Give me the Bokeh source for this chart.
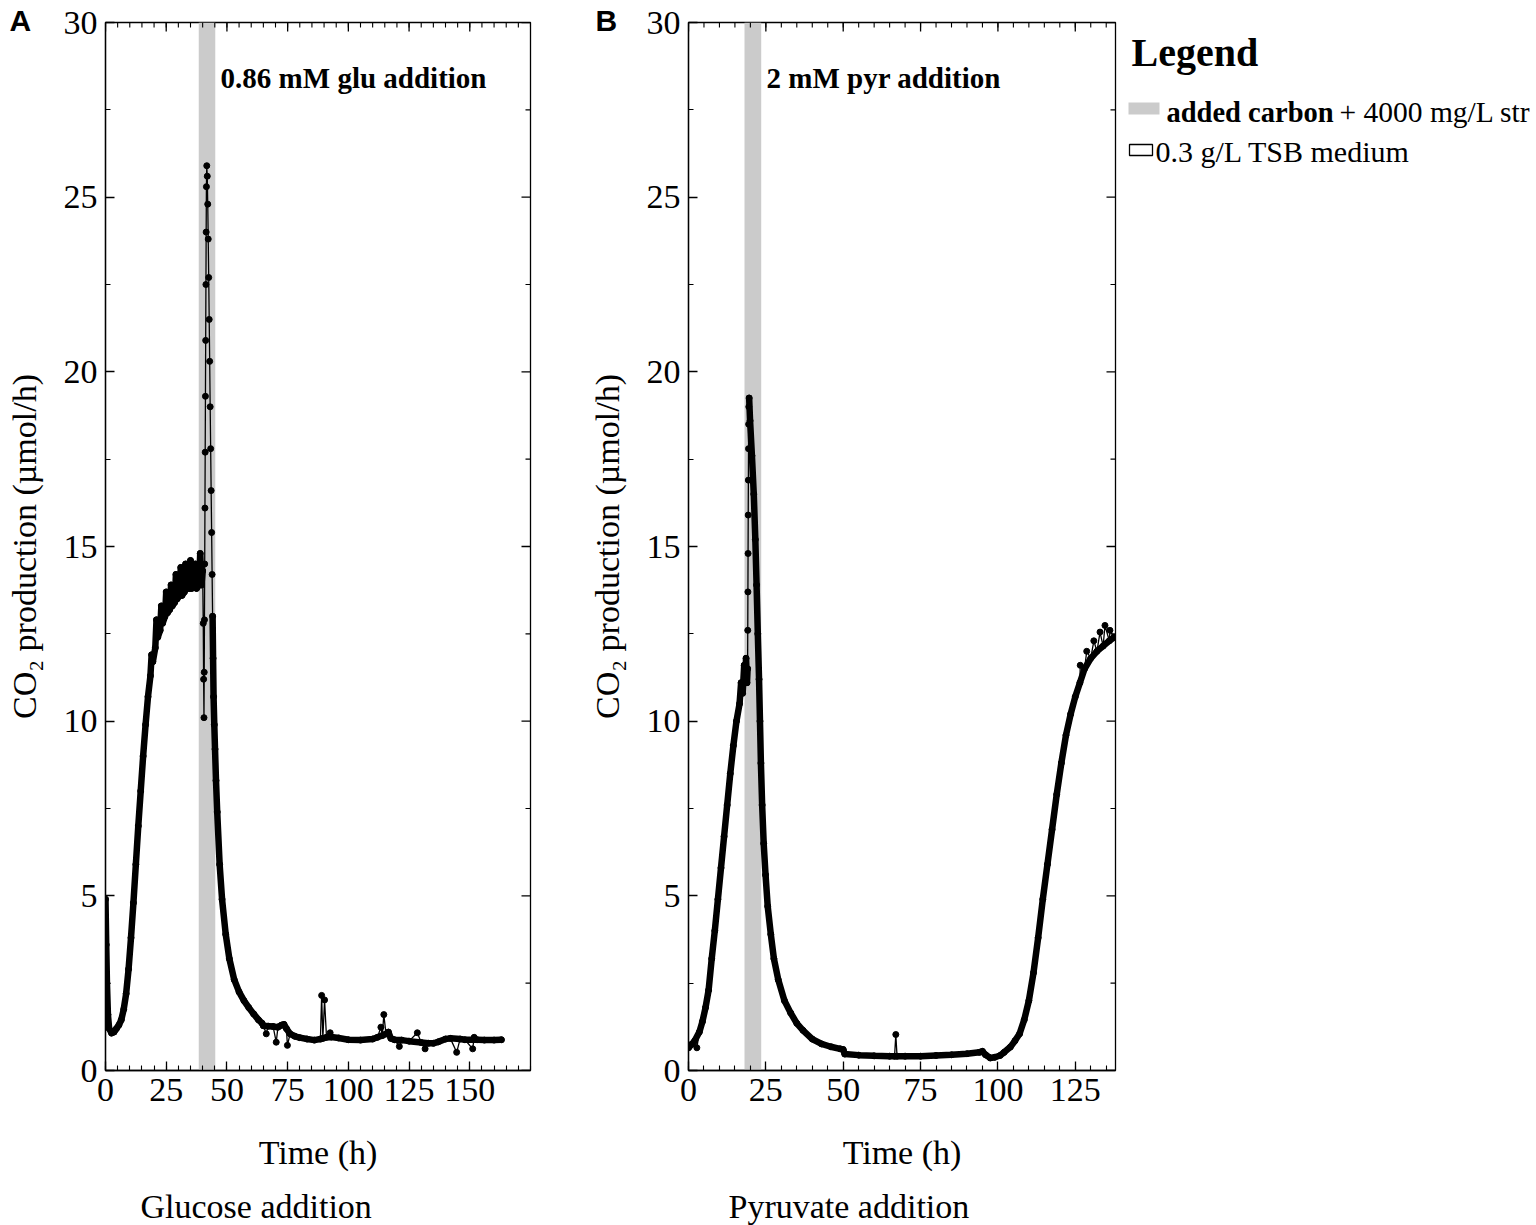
import numpy as np
import pandas as pd
from bokeh.plotting import figure
from bokeh.models import Range1d, FixedTicker, BoxAnnotation, Label, Title
from bokeh.layouts import row
from bokeh.embed import file_html
from bokeh.resources import INLINE
from bokeh.core.properties import value

SERIF = "Liberation Serif"

# ---------------- data: panel A (glucose) ----------------
glu_time = [
    0.0, 0.3, 0.6, 1.0, 1.5, 2.5, 3.5, 4.5, 5.5, 6.5,
    7.5, 8.5, 9.5, 10.5, 11.5, 12.5, 13.5, 14.5, 15.5, 16.5,
    17.5, 18.5, 19.0, 19.5, 20.5, 21.0, 21.5, 22.5, 23.0, 23.5,
    24.5, 25.0, 25.5, 26.5, 27.0, 27.5, 28.5, 29.0, 29.5, 30.5,
    31.0, 31.5, 32.5, 33.0, 33.5, 34.5, 35.0, 35.5, 36.5, 37.0,
    37.5, 38.5, 39.0, 39.5, 40.0,
    40.25, 40.4, 40.55, 40.65, 40.75, 40.85, 40.95, 41.05, 41.15, 41.25,
    41.35, 41.45, 41.55, 41.7, 41.9, 42.1, 42.3, 42.5, 42.7, 42.9,
    43.1, 43.3, 43.5, 43.7, 43.9, 44.1, 44.3, 44.5, 44.8, 45.1,
    45.5, 46.0, 47.0, 48.0, 49.5, 51.0, 53.0, 55.0, 57.0, 59.0,
    61.0, 63.0, 64.5, 65.0, 67.0, 69.0, 71.0, 72.5, 73.5, 74.5,
    76.0, 78.0, 80.0, 83.0, 86.0, 88.5, 89.5, 91.0, 93.0, 96.0,
    100.0, 105.0, 110.0, 112.0, 114.0, 115.5, 116.5, 117.5, 119.0, 122.0,
    125.0, 130.0, 133.0, 135.0, 137.0, 140.0, 142.0, 146.0, 148.0, 153.0,
    156.0, 160.0, 163.0]
glu_co2 = [
    4.9, 3.6, 2.5, 1.6, 1.2, 1.07, 1.1, 1.2, 1.3, 1.45,
    1.75, 2.2, 2.9, 3.8, 4.8, 5.9, 7.0, 8.0, 9.0, 9.9,
    10.7, 11.3, 11.9, 11.7, 12.1, 12.9, 12.4, 12.6, 13.3, 12.8,
    13.0, 13.7, 13.1, 13.2, 13.9, 13.3, 13.4, 14.2, 13.5, 13.6,
    14.4, 13.6, 13.7, 14.5, 13.8, 13.8, 14.6, 13.8, 13.9, 14.5,
    13.8, 13.9, 14.8, 13.9, 14.3,
    12.8, 11.2, 10.1, 11.4, 12.9, 14.5, 16.1, 17.7, 19.3, 20.9,
    22.5, 24.0, 25.3, 25.9, 25.6, 24.8, 23.8, 22.7, 21.5, 20.3,
    19.0, 17.8, 16.6, 15.4, 14.2, 13.0, 11.8, 10.7, 9.9, 9.2,
    8.3, 7.4, 5.9, 4.9, 3.9, 3.2, 2.6, 2.25, 2.0, 1.8,
    1.62, 1.45, 1.35, 1.28, 1.27, 1.26, 1.24, 1.3, 1.32, 1.2,
    1.05, 0.98, 0.94, 0.9, 0.87, 0.9, 0.92, 0.95, 0.96, 0.93,
    0.88, 0.87, 0.9, 0.95, 1.0, 1.05, 1.1, 0.92, 0.88, 0.87,
    0.84, 0.8, 0.78, 0.78, 0.82, 0.9, 0.92, 0.9, 0.88, 0.88,
    0.87, 0.87, 0.88]
glu_spike_time = [66.2, 70.3, 74.9, 89.0, 90.2, 92.5, 113.4, 114.6, 121.0, 128.4, 131.6, 144.6, 151.2, 151.8]
glu_spike_co2 = [1.05, 0.81, 0.72, 2.15, 2.02, 1.08, 1.24, 1.6, 0.69, 1.08, 0.62, 0.52, 0.62, 0.95]
glu_band = (38.4, 45.2)

# ---------------- data: panel B (pyruvate) ----------------
pyr_time = [
    0.0, 1.0, 2.0, 3.5, 4.5, 5.5, 6.5, 7.5, 8.5, 9.5,
    10.5, 11.5, 12.5, 13.5, 14.5, 15.5, 16.5, 17.0, 17.5, 18.0,
    18.3, 18.6, 18.9,
    19.1, 19.15, 19.2, 19.25, 19.3, 19.35, 19.4, 19.45, 19.5, 19.6,
    19.9, 20.5, 21.1, 21.6, 22.0, 22.4, 22.8, 23.1, 23.4, 23.8,
    24.3, 24.9, 25.6, 26.6, 27.6, 29.0, 31.0, 33.0, 35.0, 37.0,
    40.0, 43.0, 46.0, 49.0, 50.0, 50.5, 55.0, 60.0, 65.0, 66.6, 67.4, 70.0,
    75.0, 80.0, 85.0, 90.0, 94.0, 95.0, 96.0, 97.5, 99.0, 100.7,
    102.0, 104.0, 105.5, 107.0, 108.5, 110.0, 111.5, 113.0, 114.5, 116.0,
    117.5, 119.0, 120.5, 122.0, 123.5, 125.0, 126.5, 128.0, 130.0, 132.0,
    134.0, 136.0, 137.5]
pyr_co2 = [
    0.65, 0.75, 0.85, 1.1, 1.4, 1.8, 2.3, 3.2, 4.0, 4.9,
    5.8, 6.7, 7.6, 8.5, 9.3, 10.0, 10.5, 11.1, 10.8, 11.6,
    11.2, 11.8, 11.1,
    11.5, 12.6, 13.7, 14.8, 15.9, 16.9, 17.8, 18.5, 19.0, 19.25,
    18.6, 17.6, 16.5, 15.2, 13.9, 12.5, 11.2, 10.0, 8.8, 7.6,
    6.5, 5.6, 4.7, 3.9, 3.2, 2.6, 2.0, 1.65, 1.35, 1.15,
    0.9, 0.76, 0.68, 0.62, 0.6, 0.47, 0.44, 0.42, 0.41, 0.41, 0.41, 0.41,
    0.41, 0.43, 0.45, 0.48, 0.52, 0.55, 0.45, 0.36, 0.38, 0.43,
    0.52, 0.67, 0.85, 1.05, 1.45, 2.0, 2.8, 3.8, 4.9, 5.9,
    6.9, 7.9, 8.8, 9.6, 10.2, 10.7, 11.1, 11.5, 11.8, 12.0,
    12.15, 12.3, 12.4]
pyr_spike_time = [2.7, 67.0, 126.6, 128.7, 131.0, 133.0, 134.6, 136.2]
pyr_spike_co2 = [0.65, 1.03, 11.6, 12.0, 12.3, 12.55, 12.74, 12.6]
pyr_band = (18.1, 23.5)

y_ticks = [0, 5, 10, 15, 20, 25, 30]
y_minor = [2.5, 7.5, 12.5, 17.5, 22.5, 27.5]

H = 1225
TOP = 22
FRAME_H = 1048
BOTTOM = H - TOP - FRAME_H


def style_axis(ax):
    ax.axis_line_color = "black"
    ax.axis_line_width = 1.3
    ax.major_tick_in = 9
    ax.major_tick_out = 0
    ax.minor_tick_in = 5
    ax.minor_tick_out = 0
    ax.major_tick_line_color = "black"
    ax.minor_tick_line_color = "black"
    ax.major_tick_line_width = 1.3
    ax.minor_tick_line_width = 1.1
    ax.major_label_text_font = SERIF
    ax.major_label_text_color = "black"
    ax.major_label_text_font_size = "34px"
    ax.major_label_standoff = 8
    ax.axis_label_text_font = SERIF
    ax.axis_label_text_font_style = "normal"
    ax.axis_label_text_font_size = "34px"
    ax.axis_label_text_color = "black"


def build_panel(t, v, st, sv, x_end, x_major, x_minor, band, note, note_x,
                caption, caption_off, letter, letter_off, left, frame_w, width,
                thin_from, thin_to):
    p = figure(width=width, height=H, x_range=Range1d(0, x_end), y_range=Range1d(0, 30),
               output_backend="svg", toolbar_location=None,
               min_border_left=left, min_border_right=width - left - frame_w,
               min_border_top=TOP, min_border_bottom=BOTTOM,
               background_fill_color="white", border_fill_color="white")
    p.xgrid.visible = False
    p.ygrid.visible = False
    p.outline_line_color = "black"
    p.outline_line_width = 1.3

    p.xaxis.ticker = FixedTicker(ticks=x_major, minor_ticks=x_minor)
    p.yaxis.ticker = FixedTicker(ticks=y_ticks, minor_ticks=y_minor)
    for ax in p.xaxis:
        style_axis(ax)
    for ax in p.yaxis:
        style_axis(ax)
        ax.axis_label = "CO\u2082 production (\u00b5mol/h)"
        ax.axis_label_standoff = 18

    # inward ticks on the top and right frame edges
    p.ray(x=x_major, y=[30] * len(x_major), length=9, angle=-np.pi / 2, length_units="screen",
          line_color="black", line_width=1.3)
    p.ray(x=x_minor, y=[30] * len(x_minor), length=5, angle=-np.pi / 2, length_units="screen",
          line_color="black", line_width=1.1)
    p.ray(x=[x_end] * len(y_ticks), y=y_ticks, length=9, angle=np.pi, length_units="screen",
          line_color="black", line_width=1.3)
    p.ray(x=[x_end] * len(y_minor), y=y_minor, length=5, angle=np.pi, length_units="screen",
          line_color="black", line_width=1.1)

    p.add_layout(BoxAnnotation(left=band[0], right=band[1], fill_color="#cbcbcb",
                               fill_alpha=1.0, line_color=None, level="underlay"))

    df = pd.DataFrame({"t": list(t) + list(st), "v": list(v) + list(sv)}).sort_values("t")
    tarr = np.array(t, dtype=float)
    varr = np.array(v, dtype=float)
    thick = np.where((tarr < thin_from) | (tarr > thin_to), varr, np.nan)

    p.line(df["t"], df["v"], line_width=1.3, color="black")
    p.line(tarr, thick, line_width=6.5, color="black", line_join="round", line_cap="round")
    p.scatter(df["t"], df["v"], size=6, color="black")

    p.add_layout(Label(x=note_x, y=28.42, text=note, text_font=SERIF, text_font_size="29px",
                       text_font_style="bold", text_color="black", text_baseline="middle"))

    p.add_layout(Title(text=letter, align="left", offset=letter_off, standoff=-29,
                       text_font="Liberation Sans", text_font_size="30px",
                       text_font_style="bold", text_color="black"), "above")
    # x-axis title and panel caption stacked below the axis
    p.add_layout(Title(text="Time (h)", align="center", standoff=56,
                       text_font=SERIF, text_font_size="34px", text_font_style="normal",
                       text_color="black"), "below")
    p.add_layout(Title(text=caption, align="left", offset=caption_off, standoff=-25,
                       text_font=SERIF, text_font_size="34px", text_font_style="normal",
                       text_color="black"), "below")
    return p


pA = build_panel(glu_time, glu_co2, glu_spike_time, glu_spike_co2, 175,
                 [0, 25, 50, 75, 100, 125, 150], list(range(0, 176, 5)), glu_band,
                 "0.86 mM glu addition", 47.4, "Glucose addition", 35, "A", -96,
                 105, 425, 568, 40.2, 44.0)
pB = build_panel(pyr_time, pyr_co2, pyr_spike_time, pyr_spike_co2, 138,
                 [0, 25, 50, 75, 100, 125], list(range(0, 139, 5)), pyr_band,
                 "2 mM pyr addition", 25.2, "Pyruvate addition", 40, "B", -93,
                 120, 427, 552, 19.12, 19.55)

# ---------------- legend panel ----------------
legend_title = "Legend"
legend_bold = "added carbon"
legend_rest = "+ 4000 mg/L str"
legend_medium = "0.3 g/L TSB medium"

X0 = 1120
LW = 1536 - X0
pL = figure(width=LW, height=H, x_range=Range1d(X0, X0 + LW), y_range=Range1d(TOP + FRAME_H, TOP),
            output_backend="svg", toolbar_location=None, x_axis_type=None, y_axis_type=None,
            min_border_left=0, min_border_right=0, min_border_top=TOP,
            min_border_bottom=BOTTOM, background_fill_color="white", border_fill_color="white")
pL.xgrid.visible = False
pL.ygrid.visible = False
pL.outline_line_color = None
pL.text(x=[1131], y=[52], text=[legend_title], text_font=value(SERIF), text_font_size="40px",
        text_font_style="bold", text_color="black", text_baseline="middle")
pL.quad(left=[1128], right=[1159], top=[102], bottom=[114], fill_color="#cbcbcb", line_color=None)
pL.text(x=[1166], y=[111.5], text=[legend_bold], text_font=value(SERIF), text_font_size="28.5px",
        text_font_style="bold", text_color="black", text_baseline="middle")
pL.text(x=[1339], y=[111.5], text=[legend_rest], text_font=value(SERIF), text_font_size="29.5px",
        text_color="black", text_baseline="middle")
pL.quad(left=[1129], right=[1152], top=[144], bottom=[155], fill_color="white", line_color="black",
        line_width=1.3)
pL.text(x=[1155], y=[151], text=[legend_medium], text_font=value(SERIF), text_font_size="30px",
        text_color="black", text_baseline="middle")

layout = row(pA, pB, pL)
open("out.html", "w").write(file_html(layout, INLINE))
